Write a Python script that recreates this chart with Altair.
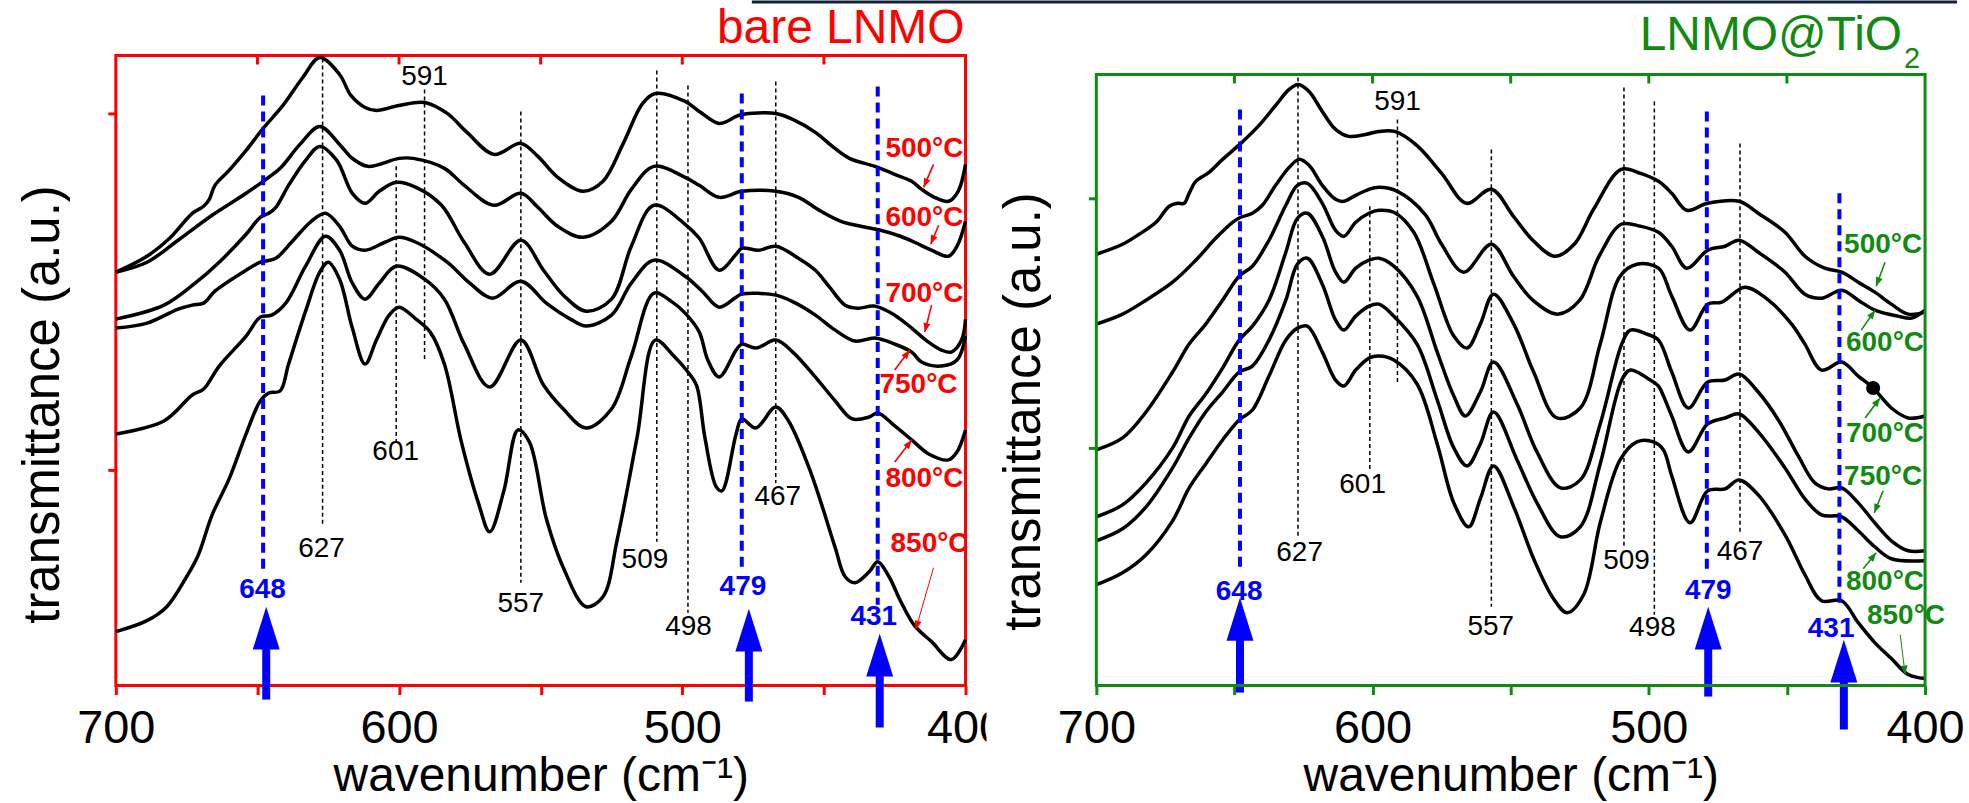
import math
import altair as alt
import pandas as pd

FONT = "Liberation Sans, Arial, Helvetica, sans-serif"
RED = "#ff0000"
GREEN = "#118a11"
BLUE = "#0000ff"
NAVY = "#14213d"

TEMPS = ["500°C", "600°C", "700°C", "750°C", "800°C", "850°C"]

# ---------------- bare LNMO : (wavenumber cm-1, transmittance a.u.) ----------------
BARE_500 = [(700,4.14),(689,4.30),(681,4.48),(673,4.73),(669,4.80),(667,4.87),(665,5.01),(660,5.16),(654,5.36),(648,5.58),(641,5.81),(634,6.09),(628,6.29),(621,6.12),(617,5.91),(612,5.79),(608,5.76),(600,5.81),(591,5.84),(583,5.73),(576,5.54),(566.5,5.32),(557,5.43),(551,5.30),(544,5.09),(535,4.95),(528,5.05),(521,5.42),(514,5.83),(509.5,5.93),(499,5.85),(494,5.75),(487,5.63),(481,5.70),(479,5.72),(467,5.73),(461,5.67),(453,5.54),(447,5.40),(441,5.28),(432,5.20),(425,5.12),(419,5.05),(415.5,4.97),(411,4.89),(406,4.85),(402.6,4.95),(400,5.22)]
BARE_600 = [(700,4.14),(689,4.24),(678,4.46),(666,4.71),(654,4.93),(648,5.05),(642,5.18),(635,5.42),(628,5.60),(621,5.42),(616.5,5.28),(611,5.20),(600,5.28),(595,5.28),(584,5.18),(577,5.01),(566.5,4.81),(557,4.93),(551,4.79),(544,4.60),(535,4.49),(525,4.65),(518,4.97),(510,5.20),(499,5.09),(494,5.01),(487,4.89),(479,4.95),(467,4.95),(459,4.89),(451,4.75),(444,4.65),(437,4.60),(430,4.56),(423,4.50),(418,4.44),(412,4.36),(406,4.30),(403,4.40),(400,4.65)]
BARE_700 = [(700,3.67),(683,3.81),(672,4.03),(663.5,4.24),(654,4.52),(649,4.69),(646,4.73),(643.5,4.79),(639,5.01),(633,5.26),(628,5.40),(622,5.26),(616.5,4.93),(612,4.83),(607,4.95),(601,5.04),(594,4.99),(585,4.81),(577,4.44),(568,4.12),(557,4.46),(549,4.16),(542,3.91),(534,3.75),(525,3.87),(518,4.40),(510,4.81),(499,4.62),(494,4.48),(487,4.16),(481,4.32),(479,4.38),(473,4.36),(467,4.40),(459,4.28),(453,4.16),(448,3.99),(442.5,3.81),(438,3.78),(432,3.80),(425,3.71),(419,3.58),(414,3.46),(408.5,3.36),(405,3.34),(401.4,3.46),(400,3.67)]
BARE_750 = [(700,3.58),(689,3.63),(678,3.77),(673,3.81),(669,3.83),(665,3.95),(654,4.16),(649,4.24),(643.5,4.28),(638,4.44),(631,4.65),(626,4.73),(621,4.60),(616.5,4.40),(612,4.36),(605,4.44),(600,4.49),(594,4.44),(583,4.24),(575,4.03),(567,3.88),(557,4.05),(548,3.83),(539.5,3.67),(534,3.60),(525,3.71),(518,4.03),(510,4.26),(499,4.10),(493,3.95),(487,3.79),(481,3.89),(479,3.92),(467,3.91),(460,3.83),(453,3.71),(446,3.56),(439,3.45),(432,3.48),(425,3.42),(419,3.34),(415.5,3.24),(408.5,3.20),(403,3.26),(400,3.50)]
BARE_800 = [(700,2.52),(683,2.65),(673,2.91),(669,2.97),(663.5,3.20),(654,3.50),(649,3.69),(645,3.71),(640,3.83),(633,4.20),(626,4.50),(621,4.36),(616.5,4.03),(612,3.87),(607,4.03),(601,4.20),(591,4.07),(584,3.87),(577,3.42),(568,2.99),(557,3.46),(549,3.01),(542,2.77),(534,2.58),(525,2.77),(518,3.30),(510,3.93),(504,3.85),(499,3.73),(494,3.54),(491,3.26),(487,3.09),(481,3.36),(479,3.42),(474,3.38),(467,3.46),(461,3.34),(453,3.09),(446,2.85),(440,2.67),(434,2.69),(431,2.73),(425,2.60),(419,2.46),(413,2.32),(406,2.26),(403,2.34),(400,2.56)]
BARE_850 = [(700,0.54),(689,0.65),(682,0.79),(675,1.09),(671,1.30),(666,1.71),(660,2.07),(654,2.52),(649,2.85),(646,2.93),(642,2.95),(639,3.22),(633,3.75),(628,4.14),(625,4.24),(621,4.07),(616.5,3.58),(612,3.22),(608,3.46),(603.5,3.71),(600,3.79),(594,3.67),(589,3.54),(584,3.22),(578,2.44),(572,1.83),(568,1.54),(563,1.95),(558,2.56),(554,2.44),(548,1.67),(542,1.18),(534,0.79),(528,0.89),(523,1.46),(516,2.48),(509.5,3.46),(503,3.30),(498,3.14),(495,3.01),(492,2.48),(488,1.99),(486,1.95),(481,2.52),(479,2.67),(474,2.58),(467,2.79),(462.5,2.65),(455.5,2.20),(451,1.83),(446,1.38),(442.5,1.09),(439,1.03),(434,1.14),(431,1.24),(427,1.09),(423,0.85),(418,0.60),(412,0.44),(405,0.26),(400,0.46)]

# ---------------- LNMO@TiO2 ----------------
TIO2_500 = [(700,4.32),(690.5,4.42),(684.5,4.52),(678.4,4.64),(673.6,4.80),(670.6,4.83),(668.2,4.83),(666.4,4.93),(664,5.05),(659.2,5.14),(654.3,5.27),(647.7,5.43),(641.1,5.61),(635.1,5.81),(630.2,5.97),(626.9,6.02),(623,5.95),(618.2,5.75),(613.4,5.57),(608.6,5.50),(602.5,5.52),(597.7,5.55),(592,5.55),(584,5.41),(575,5.13),(566,4.83),(557,4.97),(549,4.70),(542,4.46),(534,4.30),(527,4.42),(520,4.77),(510,5.17),(503,5.13),(496.5,5.05),(491.7,4.93),(486.3,4.76),(478.7,4.83),(467.3,4.85),(460.4,4.73),(450.7,4.54),(443.5,4.30),(436.3,4.18),(430.2,4.14),(424.2,4.04),(418.2,3.94),(412.2,3.82),(406.1,3.72),(400,3.74)]
TIO2_600 = [(700,3.62),(690.5,3.72),(682,3.86),(672.4,4.04),(664,4.26),(656.8,4.48),(650.7,4.64),(647.7,4.69),(643.5,4.73),(639.9,4.81),(635.1,5.01),(630.2,5.19),(626.6,5.27),(623,5.21),(618.2,5.01),(613.4,4.87),(610.4,4.85),(606.1,4.91),(601.3,4.97),(597.7,4.99),(591,4.95),(581,4.72),(575,4.42),(567,4.14),(557,4.42),(549,4.10),(542,3.86),(533,3.72),(525,3.86),(518,4.30),(510,4.62),(503,4.60),(496.5,4.54),(491.7,4.40),(486.3,4.18),(478.7,4.36),(472.4,4.40),(467.3,4.46),(460.4,4.34),(450.7,4.14),(443.5,3.92),(437.5,3.88),(430.2,3.96),(424.2,3.86),(418.2,3.76),(409.8,3.70),(404.9,3.68),(400,3.76)]
TIO2_700 = [(700,2.36),(690.5,2.48),(682,2.74),(672.4,3.14),(666.4,3.42),(660.4,3.62),(654.3,3.86),(648.3,4.10),(643.5,4.20),(637.5,4.46),(631.4,4.81),(627.2,5.01),(623.6,5.03),(618.2,4.83),(613.4,4.56),(610.4,4.50),(606.1,4.64),(601.3,4.73),(597.7,4.76),(592.3,4.74),(585.1,4.54),(577.8,4.02),(570.6,3.50),(565.8,3.38),(561,3.62),(556.2,3.92),(548.9,3.62),(541.7,3.14),(533.3,2.68),(524.8,2.78),(517.6,3.42),(510.4,4.10),(504.3,4.22),(496.5,4.18),(491.7,3.90),(485.1,3.56),(478.7,3.82),(473.6,3.84),(465.2,3.99),(456.7,3.86),(448.3,3.62),(443.5,3.42),(437.5,3.16),(430.2,3.24),(424.2,3.10),(418.8,2.98),(412.2,2.78),(406.1,2.68),(400,2.70)]
TIO2_750 = [(700,1.69),(690.5,1.81),(682,2.03),(672.4,2.38),(666.4,2.70),(660.4,2.92),(654.3,3.18),(648.3,3.46),(643.5,3.60),(637.5,3.86),(631.4,4.34),(627.2,4.68),(623.6,4.73),(618.2,4.50),(613.4,4.14),(610.4,4.04),(606.1,4.18),(601.3,4.26),(597.7,4.28),(592.3,4.20),(583.9,3.90),(576.6,3.34),(570.6,2.90),(566.4,2.70),(561,2.94),(556.2,3.24),(547.7,2.82),(540.5,2.34),(532,1.98),(524.8,2.06),(517.6,2.62),(509.8,3.42),(506.7,3.56),(500.7,3.52),(496.5,3.46),(491.7,3.14),(485.7,2.78),(478.7,3.04),(472.4,3.06),(467.3,3.12),(460.4,2.94),(453.1,2.66),(445.9,2.30),(439.9,2.03),(435.1,1.97),(430.2,1.98),(424.2,1.83),(418.2,1.63),(412.2,1.45),(406.1,1.35),(400,1.35)]
TIO2_800 = [(700,1.45),(690.5,1.57),(682,1.79),(672.4,2.18),(666.4,2.48),(660.4,2.74),(654.3,2.94),(648.3,3.14),(643.5,3.20),(637.5,3.46),(631.4,3.86),(627.2,4.22),(623.6,4.28),(618.2,4.02),(613.4,3.66),(610.4,3.56),(606.1,3.70),(601.3,3.80),(597.7,3.82),(592.3,3.70),(583.9,3.42),(576.6,2.86),(570.6,2.38),(565.8,2.20),(561,2.42),(556.2,2.74),(547.7,2.26),(540.5,1.83),(532,1.49),(524.8,1.59),(517.6,2.22),(509.8,3.06),(506.7,3.16),(499.5,3.06),(496.5,3.00),(494.7,2.90),(491.7,2.70),(485.7,2.34),(478.7,2.62),(472.4,2.68),(467.3,2.72),(460.4,2.54),(450.7,2.18),(443.5,1.87),(437.5,1.71),(430.2,1.69),(424.2,1.55),(418.2,1.39),(412.2,1.27),(400,1.25)]
TIO2_850 = [(700,1.01),(690.5,1.13),(682,1.31),(672.4,1.65),(666.4,1.98),(660.4,2.22),(654.3,2.46),(648.3,2.66),(643.5,2.76),(637.5,3.10),(631.4,3.46),(627.2,3.58),(623.6,3.60),(618.2,3.34),(613.4,3.06),(610.4,3.00),(606.1,3.16),(601.3,3.28),(597.7,3.30),(592.3,3.26),(583.9,3.02),(576.6,2.42),(570.6,1.83),(565.2,1.59),(561,1.87),(556.2,2.20),(548.9,1.79),(541.7,1.27),(534.5,0.87),(529.6,0.73),(523.6,0.91),(517.6,1.63),(510.4,2.26),(504.3,2.44),(498.3,2.44),(494.7,2.36),(491.7,2.10),(485.1,1.63),(478.7,1.95),(472.4,1.97),(467.3,2.06),(460.4,1.91),(450.7,1.51),(443.5,1.11),(437.5,0.85),(430.2,0.85),(424.2,0.63),(418.2,0.43),(412.2,0.27),(406.1,0.11),(400,0.07)]

# ---------------- reference lines & labels ----------------
PEAK_LABELS = ["627", "601", "591", "557", "509", "498", "467"]
PEAK_W = [627, 601, 591, 557, 509, 498, 467]
BLUE_LABELS = ["648", "479", "431"]
BLUE_W = [648, 479, 431]

BARE_PEAK_TOP = [6.28, 5.20, 5.97, 5.75, 6.16, 6.01, 6.05]
BARE_PEAK_BOTTOM = [1.61, 2.44, 3.24, 1.03, 1.44, 0.73, 2.03]
BARE_PEAK_LABEL_W = [627.4, 601.2, 591, 557, 513.2, 497.8, 466.3]
BARE_PEAK_LABEL_V = [1.37, 2.34, 6.09, 0.82, 1.26, 0.59, 1.89]
BARE_BLUE_TOP = [5.91, 5.93, 6.00]
BARE_BLUE_BOTTOM = [1.16, 1.14, 0.81]
BARE_BLUE_LABEL_W = [648.2, 478.6, 432.4]
BARE_BLUE_LABEL_V = [0.96, 0.99, 0.69]
BARE_ARROW_W = [646.9, 476.5, 430.3]
BARE_ARROW_TIP = [0.79, 0.77, 0.52]
BARE_ARROW_TAIL = [-0.14, -0.16, -0.42]

TIO2_PEAK_TOP = [6.09, 4.80, 5.67, 5.37, 5.99, 5.85, 5.43]
TIO2_PEAK_BOTTOM = [1.49, 2.15, 3.02, 0.79, 1.37, 0.71, 1.51]
TIO2_PEAK_LABEL_W = [626.4, 603.6, 591, 557.2, 508.1, 498.7, 467]
TIO2_PEAK_LABEL_V = [1.33, 2.01, 5.84, 0.59, 1.25, 0.58, 1.34]
TIO2_BLUE_TOP = [5.77, 5.75, 4.93]
TIO2_BLUE_BOTTOM = [1.13, 1.11, 0.79]
TIO2_BLUE_LABEL_W = [648.3, 478.5, 434.0]
TIO2_BLUE_LABEL_V = [0.94, 0.95, 0.57]
TIO2_ARROW_W = [648, 478.5, 429.4]
TIO2_ARROW_TIP = [0.88, 0.79, 0.46]
TIO2_ARROW_TAIL = [-0.07, -0.11, -0.44]

# temperature labels and their pointers (from -> to)
BARE_TEMP_W = [414.5, 414.5, 414.5, 416.6, 414.5, 412.7]
BARE_TEMP_V = [5.37, 4.68, 3.92, 3.01, 2.07, 1.42]
BARE_PTR_FROM = [(411.3, 5.22), (409.5, 4.61), (412.0, 3.81), (425.0, 3.16), (425.0, 2.24), (411.3, 1.18)]
BARE_PTR_TO = [(414.8, 4.99), (412.3, 4.42), (414.4, 3.54), (419.7, 3.36), (419.0, 2.46), (417.6, 0.56)]

TIO2_TEMP_W = [415.2, 414.5, 414.5, 415.2, 414.5, 406.9]
TIO2_TEMP_V = [4.41, 3.43, 2.52, 2.09, 1.04, 0.70]
TIO2_PTR_FROM = [(414.5, 4.24), (423.1, 3.56), (421.7, 2.68), (415.2, 1.95), (422.4, 1.17), (409.0, 0.51)]
TIO2_PTR_TO = [(417.7, 4.00), (418.1, 3.76), (416.3, 2.88), (418.4, 1.73), (417.7, 1.33), (407.2, 0.11)]
TIO2_DOT = [(418.8, 2.98)]

X_TICKS = [400, 450, 500, 550, 600, 650, 700]
TOP_TICKS = [450, 500, 550, 600, 650]
BARE_YTICKS = [2.16, 5.73]
TIO2_YTICKS = [2.38, 4.88]

# ---------------- layout constants ----------------
H = 631
Y_MAX = 6.31
W_LEFT = 851
W_RIGHT = 830
BIG_HEAD = "M0,0L0.628,2L-0.628,2Z"
SMALL_HEAD = "M0,0L0.7,1.8L-0.7,1.8Z"


def one_row():
    return pd.DataFrame({"k": [0]})


def build_panel(curves, color, width, frame_top, yticks, ytitle_y,
                peak_top, peak_bot, peak_lw, peak_lv,
                blue_top, blue_bot, blue_lw, blue_lv,
                arrow_w, arrow_tip, arrow_tail,
                temp_w, temp_v, ptr_from, ptr_to, extra):
    xs = alt.Scale(domain=[400, 700], reverse=True, nice=False, zero=False)
    ys = alt.Scale(domain=[0, Y_MAX], nice=False, zero=False)

    xaxis = alt.Axis(
        values=X_TICKS, labelExpr="datum.value % 100 === 0 ? datum.label : ''",
        labelFont=FONT, labelFontSize=47, labelColor="black", labelPadding=11,
        labelFlush=False, labelOverlap=False,
        tickSize=9, tickWidth=3, tickColor=color, domain=False, grid=False,
        title="wavenumber (cm⁻¹)", titleFont=FONT, titleFontSize=48,
        titleFontWeight="normal", titleColor="black",
        titleX=width / 2, titleY=105, titleAlign="center", titleBaseline="alphabetic",
    )
    yaxis = alt.Axis(
        values=yticks, labels=False, domain=False, grid=False,
        tickSize=8, tickWidth=3, tickColor=color,
        title="transmittance (a.u.)", titleFont=FONT, titleFontSize=51,
        titleFontWeight="normal", titleColor="black", titleAngle=270,
        titleX=-57, titleY=ytitle_y, titleAlign="center", titleBaseline="alphabetic",
    )

    def X(f):
        return alt.X(f, type="quantitative", scale=xs, axis=xaxis)

    def Y(f):
        return alt.Y(f, type="quantitative", scale=ys, axis=yaxis)

    rows = []
    for t, pts in zip(TEMPS, curves):
        for i, (w, v) in enumerate(pts):
            rows.append({"t": t, "i": i, "w": w, "v": v})
    cdf = pd.DataFrame(rows)

    peaks = pd.DataFrame({"w": PEAK_W, "top": peak_top, "bot": peak_bot,
                          "lw": peak_lw, "lv": peak_lv, "label": PEAK_LABELS})
    blues = pd.DataFrame({"w": BLUE_W, "top": blue_top, "bot": blue_bot,
                          "lw": blue_lw, "lv": blue_lv, "label": BLUE_LABELS,
                          "aw": arrow_w, "tip": arrow_tip, "tail": arrow_tail,
                          "shaft": [t - 0.3 for t in arrow_tip]})
    pxw = width / 300.0
    pxv = H / Y_MAX
    angs = []
    for (w0, v0), (w1, v1) in zip(ptr_from, ptr_to):
        dx = -(w1 - w0) * pxw
        dy = -(v1 - v0) * pxv
        angs.append((math.degrees(math.atan2(dx, -dy)) + 360) % 360)
    temps = pd.DataFrame({"label": TEMPS, "tw": temp_w, "tv": temp_v,
                          "w0": [p[0] for p in ptr_from], "v0": [p[1] for p in ptr_from],
                          "w1": [p[0] for p in ptr_to], "v1": [p[1] for p in ptr_to],
                          "ang": angs,
                          "sw": [1.6, 1.6, 1.6, 1.6, 1.6, 1.0]})

    layers = []
    layers.append(alt.Chart(cdf).mark_line(color="black", strokeWidth=3.5, interpolate="catmull-rom").encode(
        x=X("w"), y=Y("v"), detail="t:N", order="i:Q"))
    layers.append(alt.Chart(peaks).mark_rule(color="black", strokeWidth=1.5, strokeDash=[4, 3]).encode(
        x=X("w"), y=Y("top"), y2="bot"))
    layers.append(alt.Chart(blues).mark_rule(color=BLUE, strokeWidth=4, strokeDash=[10, 6]).encode(
        x=X("w"), y=Y("top"), y2="bot"))
    layers.append(alt.Chart(peaks).mark_text(font=FONT, fontSize=28, color="black",
                                             align="center", baseline="middle").encode(
        x=X("lw"), y=Y("lv"), text="label:N"))
    layers.append(alt.Chart(blues).mark_text(font=FONT, fontSize=28, fontWeight="bold", color=BLUE,
                                             align="center", baseline="middle").encode(
        x=X("lw"), y=Y("lv"), text="label:N"))
    layers.append(alt.Chart(blues).mark_rule(color=BLUE, strokeWidth=8).encode(
        x=X("aw"), y=Y("shaft"), y2="tail"))
    layers.append(alt.Chart(blues).mark_point(shape=BIG_HEAD, size=1849, filled=True, color=BLUE,
                                              opacity=1, strokeWidth=0).encode(
        x=X("aw"), y=Y("tip")))
    layers.append(alt.Chart(temps).mark_text(font=FONT, fontSize=28, fontWeight="bold", color=color,
                                             align="center", baseline="middle").encode(
        x=X("tw"), y=Y("tv"), text="label:N"))
    layers.append(alt.Chart(temps).mark_rule(color=color).encode(
        x=X("w0"), x2="w1", y=Y("v0"), y2="v1",
        strokeWidth=alt.StrokeWidth("sw:Q", scale=None)))
    layers.append(alt.Chart(temps).mark_point(shape=SMALL_HEAD, size=100, filled=True, color=color,
                                              opacity=1, strokeWidth=0).encode(
        x=X("w1"), y=Y("v1"), angle=alt.Angle("ang:Q", scale=None)))
    layers.append(alt.Chart(pd.DataFrame({"w": TOP_TICKS})).mark_rule(color=color, strokeWidth=3).encode(
        x=X("w"), y=alt.value(frame_top), y2=alt.value(frame_top + 9)))
    layers.extend(extra(X, Y))
    return alt.layer(*layers).properties(width=width, height=H)


def bare_extra(X, Y):
    return [
        alt.Chart(one_row()).mark_text(text="bare LNMO", font=FONT, fontSize=48, color=RED,
                                       align="right", baseline="alphabetic").encode(
            x=alt.value(850), y=alt.value(-13)),
    ]


def tio2_extra(X, Y):
    return [
        alt.Chart(one_row()).mark_rect(fillOpacity=0, stroke=GREEN, strokeWidth=3).encode(
            x=alt.value(0), x2=alt.value(W_RIGHT), y=alt.value(19), y2=alt.value(H)),
        alt.Chart(pd.DataFrame({"w": [p[0] for p in TIO2_DOT], "v": [p[1] for p in TIO2_DOT]}))
        .mark_point(filled=True, color="black", size=200, opacity=1).encode(x=X("w"), y=Y("v")),
        alt.Chart(one_row()).mark_text(text="LNMO@TiO", font=FONT, fontSize=48, color=GREEN,
                                       align="right", baseline="alphabetic").encode(
            x=alt.value(807), y=alt.value(-6)),
        alt.Chart(one_row()).mark_text(text="2", font=FONT, fontSize=29, color=GREEN,
                                       align="left", baseline="alphabetic").encode(
            x=alt.value(809), y=alt.value(12)),
        alt.Chart(one_row()).mark_rule(color=NAVY, strokeWidth=3).encode(
            x=alt.value(-345), x2=alt.value(862), y=alt.value(-53.5)),
        # the source figure's right panel covers the end of the left "400" label
        alt.Chart(one_row()).mark_rect(color="white", opacity=1).encode(
            x=alt.value(-110), x2=alt.value(-85), y=alt.value(648), y2=alt.value(705)),
    ]


left = build_panel(
    [BARE_500, BARE_600, BARE_700, BARE_750, BARE_800, BARE_850], RED, W_LEFT, 0, BARE_YTICKS, 349,
    BARE_PEAK_TOP, BARE_PEAK_BOTTOM, BARE_PEAK_LABEL_W, BARE_PEAK_LABEL_V,
    BARE_BLUE_TOP, BARE_BLUE_BOTTOM, BARE_BLUE_LABEL_W, BARE_BLUE_LABEL_V,
    BARE_ARROW_W, BARE_ARROW_TIP, BARE_ARROW_TAIL,
    BARE_TEMP_W, BARE_TEMP_V, BARE_PTR_FROM, BARE_PTR_TO, bare_extra,
).properties(view=alt.ViewBackground(stroke=RED, strokeWidth=3))

right = build_panel(
    [TIO2_500, TIO2_600, TIO2_700, TIO2_750, TIO2_800, TIO2_850], GREEN, W_RIGHT, 19, TIO2_YTICKS, 356,
    TIO2_PEAK_TOP, TIO2_PEAK_BOTTOM, TIO2_PEAK_LABEL_W, TIO2_PEAK_LABEL_V,
    TIO2_BLUE_TOP, TIO2_BLUE_BOTTOM, TIO2_BLUE_LABEL_W, TIO2_BLUE_LABEL_V,
    TIO2_ARROW_W, TIO2_ARROW_TIP, TIO2_ARROW_TAIL,
    TIO2_TEMP_W, TIO2_TEMP_V, TIO2_PTR_FROM, TIO2_PTR_TO, tio2_extra,
).properties(view=alt.ViewBackground(stroke="transparent", strokeWidth=0))

chart = alt.hconcat(left, right, spacing=131, bounds="flush").properties(
    padding={"left": 16, "top": 0, "right": 4, "bottom": 0},
    background="white",
)

chart.save("out.html", embed_options={"renderer": "svg", "actions": False})
